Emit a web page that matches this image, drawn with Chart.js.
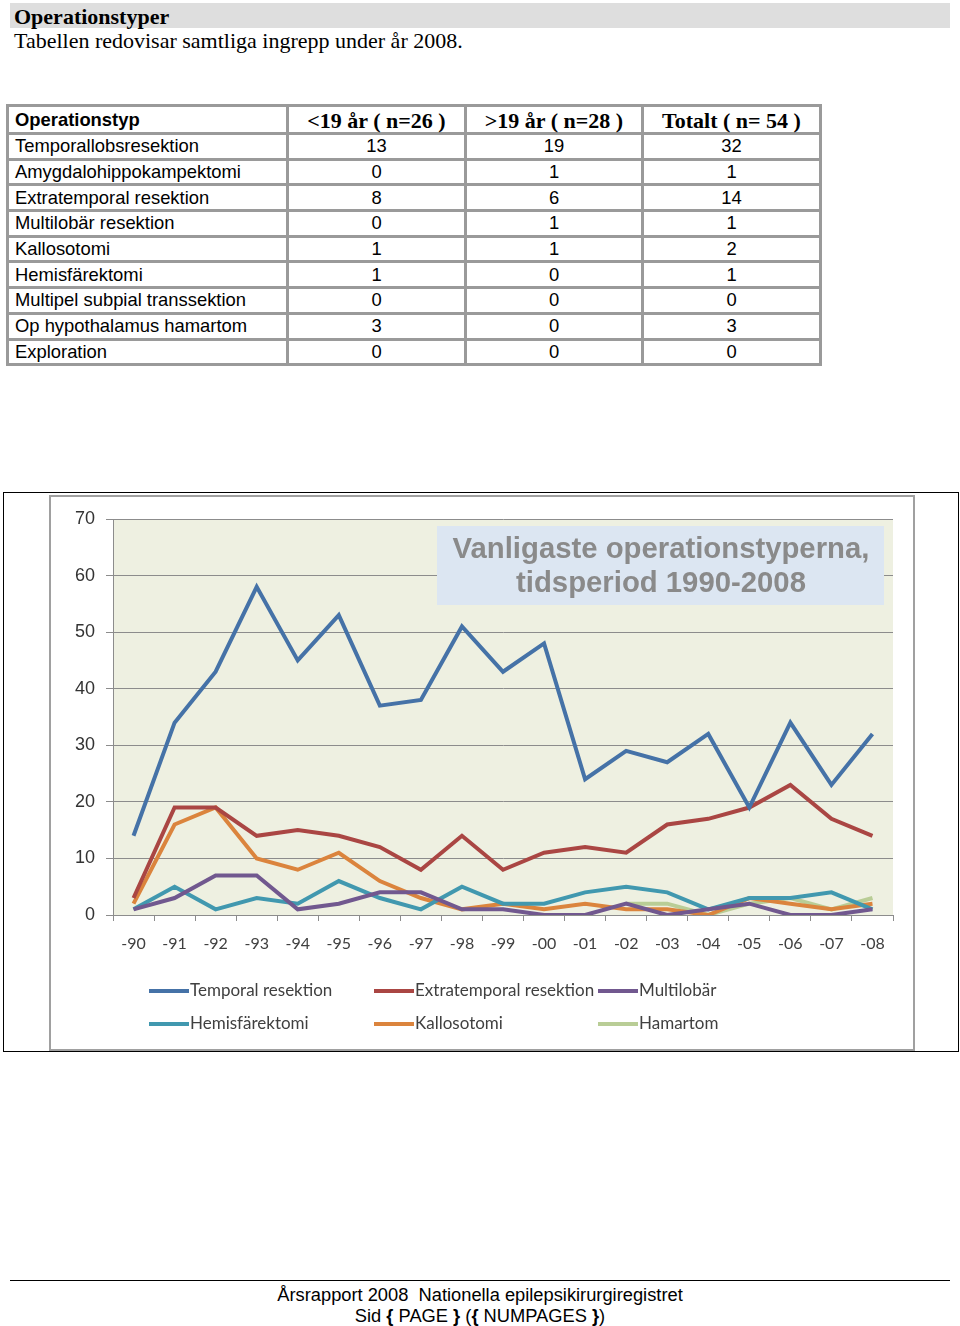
<!DOCTYPE html>
<html lang="sv">
<head>
<meta charset="utf-8">
<title>Operationstyper</title>
<script src="https://cdn.jsdelivr.net/npm/chart.js"></script>
<style>
  body { margin: 0; background: #fff; width: 960px; height: 1326px; position: relative; overflow: hidden; }
  .rubrik { position: absolute; left: 10px; top: 3px; width: 936px; height: 25px; background: #dedede;
            font: bold 22px "Liberation Serif", serif; line-height: 27px; padding-left: 4px; color: #000; }
  .under { position: absolute; left: 14px; top: 28px; font: 22px "Liberation Serif", serif; color: #000; }
  table { position: absolute; left: 6px; top: 104px; border-collapse: collapse; table-layout: fixed; width: 815px;
          font: 18.4px "Liberation Sans", Arial, sans-serif; }
  td { border: 3px solid #9a9a9a; padding: 0 6px; text-align: center; white-space: nowrap; line-height: 20px; }
  td:first-child { text-align: left; }
  tr { height: 25.7px; }
  tr.head { height: 28px; }
  tr.head td { font: bold 22px "Liberation Serif", serif; line-height: 22px; padding-top: 2px; }
  tr.head td:first-child { font: bold 18.4px "Liberation Sans", Arial, sans-serif; line-height: 20px; padding-top: 0; }
  .ram { position: absolute; left: 3px; top: 492px; width: 954px; height: 558px; border: 1px solid #000; }
  .diagram { position: absolute; left: 49px; top: 495px; width: 862px; height: 552px; border: 2px solid #a0a0a0; background: #fff; }
  .sidfot { position: absolute; left: 10px; top: 1280px; width: 940px; border-top: 1px solid #000; text-align: center;
            font: 18.3px "Liberation Sans", Arial, sans-serif; line-height: 21px; padding-top: 3px; }
</style>
</head>
<body>
<div class="rubrik">Operationstyper</div>
<div class="under">Tabellen redovisar samtliga ingrepp under år 2008.</div>

<table>
  <colgroup><col style="width:280px"><col style="width:178px"><col style="width:177px"><col style="width:178px"></colgroup>
  <tr class="head"><td>Operationstyp</td><td>&lt;19 år ( n=26 )</td><td>&gt;19 år ( n=28 )</td><td>Totalt ( n= 54 )</td></tr>
  <tr><td>Temporallobsresektion</td><td>13</td><td>19</td><td>32</td></tr>
  <tr><td>Amygdalohippokampektomi</td><td>0</td><td>1</td><td>1</td></tr>
  <tr><td>Extratemporal resektion</td><td>8</td><td>6</td><td>14</td></tr>
  <tr><td>Multilobär resektion</td><td>0</td><td>1</td><td>1</td></tr>
  <tr><td>Kallosotomi</td><td>1</td><td>1</td><td>2</td></tr>
  <tr><td>Hemisfärektomi</td><td>1</td><td>0</td><td>1</td></tr>
  <tr><td>Multipel subpial transsektion</td><td>0</td><td>0</td><td>0</td></tr>
  <tr><td>Op hypothalamus hamartom</td><td>3</td><td>0</td><td>3</td></tr>
  <tr><td>Exploration</td><td>0</td><td>0</td><td>0</td></tr>
</table>

<div class="ram"></div>
<div class="diagram"><canvas id="opChart" width="862" height="552"></canvas></div>

<div class="sidfot">Årsrapport 2008&nbsp; Nationella epilepsikirurgiregistret<br>Sid <b>{</b> PAGE <b>}</b> (<b>{</b> NUMPAGES <b>}</b>)</div>

<script>
// år 1990-2008
const years = ['-90','-91','-92','-93','-94','-95','-96','-97','-98','-99','-00','-01','-02','-03','-04','-05','-06','-07','-08'];
const temporal      = [14, 34, 43, 58, 45, 53, 37, 38, 51, 43, 48, 24, 29, 27, 32, 19, 34, 23, 32];
const extratemporal = [3, 19, 19, 14, 15, 14, 12, 8, 14, 8, 11, 12, 11, 16, 17, 19, 23, 17, 14];
const multilobar    = [1, 3, 7, 7, 1, 2, 4, 4, 1, 1, 0, 0, 2, 0, 1, 2, 0, 0, 1];
const hemisfarektomi = [1, 5, 1, 3, 2, 6, 3, 1, 5, 2, 2, 4, 5, 4, 1, 3, 3, 4, 1];
const kallosotomi   = [2, 16, 19, 10, 8, 11, 6, 3, 1, 2, 1, 2, 1, 1, 0, 3, 2, 1, 2];
const hamartom      = [null, null, null, null, null, null, null, null, null, null, null, null, 2, 2, 0, 2, 3, 1, 3];
const yTicks = [0, 10, 20, 30, 40, 50, 60, 70];

const serie = (label, data, color) => ({
    label: label, data: data, borderColor: color, backgroundColor: color,
    borderWidth: 4, pointRadius: 0, tension: 0, spanGaps: false
});

// bakgrund i ritytan + rubrikruta
const bakgrund = {
    id: 'bakgrund',
    beforeDraw(chart) {
        const {ctx, chartArea: a} = chart;
        ctx.save();
        ctx.fillStyle = '#eef0e1';
        ctx.fillRect(a.left, a.top, a.right - a.left, a.bottom - a.top);
        ctx.restore();
    },
    beforeDatasetsDraw(chart) {
        const ctx = chart.ctx;
        ctx.save();
        ctx.fillStyle = '#dce6f2';
        ctx.fillRect(386, 29, 447, 79);
        ctx.fillStyle = '#8a8a8a';
        ctx.font = 'bold 29.3px "Liberation Sans", Arial, sans-serif';
        ctx.textAlign = 'center';
        ctx.textBaseline = 'middle';
        ctx.fillText('Vanligaste operationstyperna,', 610, 53);
        ctx.fillText('tidsperiod 1990-2008', 610, 87);
        ctx.restore();
    }
};

// förklaring i tre kolumner
const forklaring = {
    id: 'forklaring',
    afterDraw(chart) {
        const ctx = chart.ctx;
        const kol = [98, 323, 547];
        const rad = [494, 527];
        ctx.save();
        ctx.font = '17px Lato, "Open Sans", sans-serif';
        ctx.textBaseline = 'middle';
        chart.data.datasets.forEach((ds, i) => {
            const x = kol[i % 3], y = rad[Math.floor(i / 3)];
            ctx.strokeStyle = ds.borderColor;
            ctx.lineWidth = 4;
            ctx.beginPath();
            ctx.moveTo(x, y);
            ctx.lineTo(x + 40, y);
            ctx.stroke();
            ctx.fillStyle = '#404040';
            ctx.fillText(ds.label, x + 41, y);
        });
        ctx.restore();
    }
};

new Chart(document.getElementById('opChart'), {
    type: 'line',
    data: {
        labels: years,
        datasets: [
            serie('Temporal resektion', temporal, '#4572a7'),
            serie('Extratemporal resektion', extratemporal, '#aa4643'),
            serie('Multilobär', multilobar, '#71588f'),
            serie('Hemisfärektomi', hemisfarektomi, '#4198af'),
            serie('Kallosotomi', kallosotomi, '#db843d'),
            serie('Hamartom', hamartom, '#b9cd96')
        ]
    },
    options: {
        responsive: false,
        animation: false,
        layout: { padding: { top: 22, right: 20, bottom: 94, left: 0 } },
        plugins: { legend: { display: false }, tooltip: { enabled: false }, title: { display: false } },
        scales: {
            x: {
                offset: true,
                afterFit(s) { s.height = 40; },
                grid: { offset: true, drawOnChartArea: false, drawTicks: true, tickLength: 6, color: '#8c8c8c' },
                border: { color: '#8c8c8c' },
                ticks: { color: '#404040', font: { family: 'Lato, "Open Sans", sans-serif', size: 16 }, padding: 13, maxRotation: 0, autoSkip: false }
            },
            y: {
                min: yTicks[0], max: yTicks[yTicks.length - 1],
                afterFit(s) { s.width = 62; },
                afterBuildTicks(s) { s.ticks = yTicks.map(v => ({ value: v })); },
                grid: { color: '#8c8c8c', tickLength: 7, lineWidth: 1 },
                border: { color: '#8c8c8c' },
                ticks: { color: '#333', font: { family: '"Liberation Sans Narrow", "Liberation Sans", sans-serif', size: 18 }, padding: 11 }
            }
        }
    },
    plugins: [bakgrund, forklaring]
});
</script>
</body>
</html>
